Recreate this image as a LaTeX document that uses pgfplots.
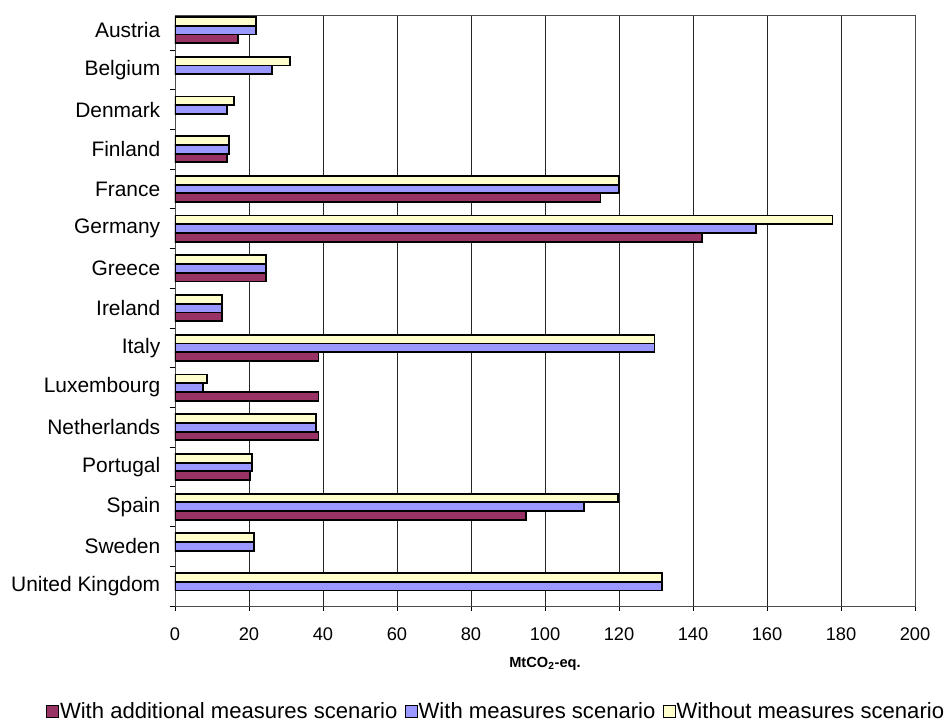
\documentclass[border=0pt]{standalone}
\usepackage{pgfplots}
\pgfplotsset{compat=1.18}
\usepackage{fontspec}
\setmainfont{Liberation Sans}
\definecolor{cRed}{HTML}{993366}
\definecolor{cBlue}{HTML}{9999FF}
\definecolor{cYel}{HTML}{FFFFCC}
\begin{document}
\begin{tikzpicture}
\begin{axis}[
  scale only axis, width=185mm, height=147.75mm,
  xbar, bar width=0.22,
  xmin=0, xmax=200, ymin=-0.5, ymax=14.38,
  xtick={0,20,...,200},
  ytick={-0.5,0.5,...,13.5},
  ytick pos=left, xtick pos=bottom,
  yticklabels={United Kingdom, Sweden, Spain, Portugal, Netherlands, Luxembourg, Italy, Ireland, Greece, Germany, France, Finland, Denmark, Belgium, Austria},
  yticklabel style={yshift=4.96mm, xshift=-1.2mm, font=\fontsize{14.9}{17}\selectfont},
  xticklabel style={yshift=-3mm, font=\fontsize{13}{15}\selectfont},
  /pgf/number format/assume math mode=true,
  tick align=outside, major tick length=1.25mm,
  tick style={black, line width=0.6pt},
  xmajorgrids, grid style={black!85, line width=0.6pt},
  axis line style={black!70, line width=0.6pt},
  xlabel={\textbf{MtCO\textsubscript{2}-eq.}},
  xlabel style={yshift=-1.7mm, font=\fontsize{10.4}{12}\selectfont},
  legend style={at={(0.433,-0.178)}, anchor=center, draw=none, fill=none,
    legend columns=3, font=\fontsize{15.7}{18}\selectfont,
    nodes={inner sep=0.2mm},
    /tikz/every even column/.append style={column sep=1.6mm}},
  legend image code/.code={\draw[#1, draw=black, line width=0.9pt] (0mm,-1.5mm) rectangle (3mm,1.5mm);},
]
\addplot[fill=cRed, draw=black, line width=1.3pt, bar shift=-0.22] coordinates {
 (17,14) (14,11) (115,10) (142.5,9) (24.5,8) (12.8,7) (38.8,6) (38.8,5) (38.8,4) (20.3,3) (94.8,2)};
\addlegendentry{With additional measures scenario}
\addplot[fill=cBlue, draw=black, line width=1.3pt, bar shift=0] coordinates {
 (22,14) (26.2,13) (14,12) (14.6,11) (120,10) (157.1,9) (24.5,8) (12.8,7) (129.6,6) (7.6,5) (38.2,4) (20.9,3) (110.5,2) (21.3,1) (131.7,0)};
\addlegendentry{With measures scenario}
\addplot[fill=cYel, draw=black, line width=1.3pt, bar shift=0.22] coordinates {
 (22,14) (31,13) (16,12) (14.6,11) (120,10) (177.7,9) (24.5,8) (12.8,7) (129.6,6) (8.6,5) (38,4) (20.9,3) (119.8,2) (21.3,1) (131.7,0)};
\addlegendentry{Without measures scenario}
\end{axis}
\pgfresetboundingbox
\path ([shift={(-43.75mm,-29.75mm)}]current axis.south west) rectangle ++(238mm,181.25mm);
\end{tikzpicture}
\end{document}
